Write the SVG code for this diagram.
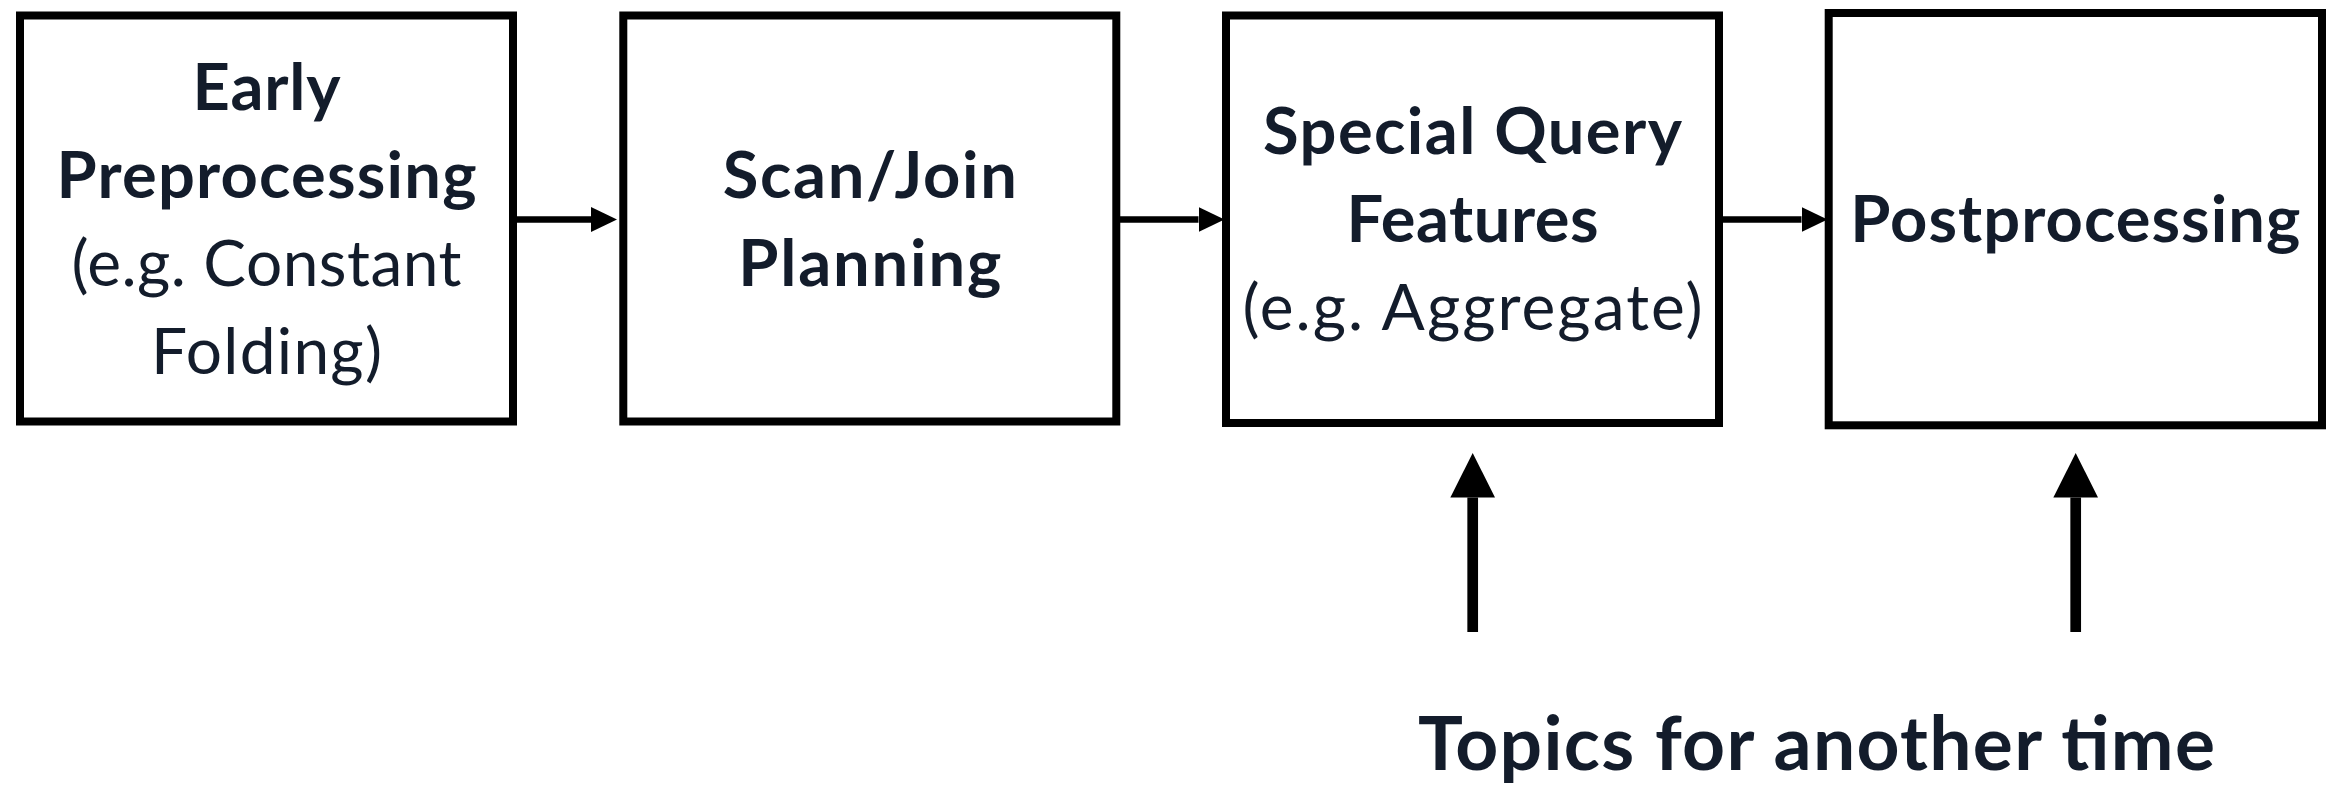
<svg xmlns="http://www.w3.org/2000/svg" width="2328" height="785" viewBox="0 0 2328 785">
  <style>
    .box { fill: #ffffff; stroke: #000000; stroke-width: 8; }
    .t { font-family: "Lato", "Noto Sans", sans-serif; fill: #131c2b; text-anchor: middle; }
    .b { font-size: 65px; font-weight: 700; }
    .r { font-size: 64px; font-weight: 400; }
    .big { font-size: 75px; font-weight: 700; }
    .flow { stroke: #000000; stroke-width: 6.5; fill: none; }
    .up { stroke: #000000; stroke-width: 10.7; fill: none; }
  </style>
  <defs>
    <marker id="head-sm" viewBox="0 0 26 25" refX="0" refY="12.5" markerWidth="26" markerHeight="25" markerUnits="userSpaceOnUse" orient="auto">
      <path d="M0,0 L26,12.5 L0,25 Z" fill="#000000"/>
    </marker>
    <marker id="head-lg" viewBox="0 0 44.5 44.7" refX="0" refY="22.35" markerWidth="44.5" markerHeight="44.7" markerUnits="userSpaceOnUse" orient="auto">
      <path d="M0,0 L44.5,22.35 L0,44.7 Z" fill="#000000"/>
    </marker>
  </defs>

  <rect width="2328" height="785" fill="#ffffff"/>

  <!-- pipeline arrows between stages, and the two pointers from the bottom label -->
  <g id="connectors">
    <path class="flow" d="M516.7,219.5 H591" marker-end="url(#head-sm)"/>
    <path class="flow" d="M1120,219.5 H1198.5" marker-end="url(#head-sm)"/>
    <path class="flow" d="M1722.7,219.5 H1801.5" marker-end="url(#head-sm)"/>
    <path class="up" d="M1472.7,632 V497.5" marker-end="url(#head-lg)"/>
    <path class="up" d="M2075.7,632 V497.5" marker-end="url(#head-lg)"/>
  </g>

  <g id="early-preprocessing">
    <rect class="box" x="20" y="15.5" width="493" height="406"/>
    <text class="t b" x="266.5" y="110" textLength="148">Early</text>
    <text class="t b" x="266.5" y="198" textLength="420">Preprocessing</text>
    <text class="t r" x="266.5" y="286" textLength="390">(e.g. Constant</text>
    <text class="t r" x="266.5" y="374" textLength="231">Folding)</text>
  </g>

  <g id="scan-join-planning">
    <rect class="box" x="623.3" y="15.5" width="493" height="406"/>
    <text class="t b" x="869.8" y="198" textLength="294">Scan/Join</text>
    <text class="t b" x="869.8" y="286" textLength="263">Planning</text>
  </g>

  <g id="special-query-features">
    <rect class="box" x="1226" y="15.5" width="493" height="407.5"/>
    <text class="t b" x="1472.5" y="154" textLength="419">Special Query</text>
    <text class="t b" x="1472.5" y="242" textLength="252">Features</text>
    <text class="t r" x="1472.5" y="330" textLength="460">(e.g. Aggregate)</text>
  </g>

  <g id="postprocessing">
    <rect class="box" x="1828.7" y="13" width="493.3" height="412.3"/>
    <text class="t b" x="2075.3" y="242" textLength="450">Postprocessing</text>
  </g>

  <g id="topics-label">
    <text class="t big" x="1816.5" y="770" textLength="797">Topics for another time</text>
  </g>
</svg>
